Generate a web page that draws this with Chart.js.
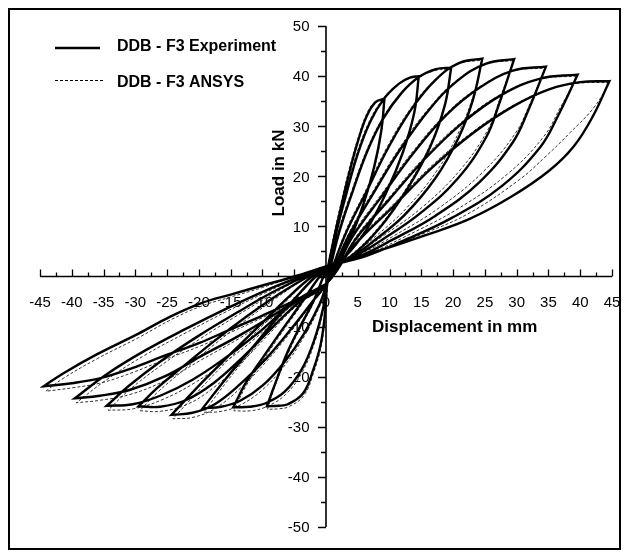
<!DOCTYPE html>
<html>
<head>
<meta charset="utf-8">
<title>DDB - F3 hysteresis</title>
<script src="https://cdn.jsdelivr.net/npm/chart.js@4.4.1/dist/chart.umd.min.js"></script>
<style>
  html, body { margin: 0; padding: 0; background: #fff; }
  #wrap { width: 629px; height: 557px; }
</style>
</head>
<body>
<div id="wrap"><canvas id="loops" width="629" height="557"></canvas></div>
<script>
// [displacement mm, load kN] per load cycle, tip points doubled to keep the loop tips sharp
const exp1 = [[0,0],[1.1,6.7],[2.3,13.5],[3.7,20.9],[5.1,27.3],[6.4,32.0],[7.8,34.8],[9.2,35.5],[9.2,35.5],[8.7,29.1],[7.6,22.0],[6.0,14.9],[4.0,8.2],[1.8,3.2],[0,1.0],
  [-0.4,0],[-2.0,-5.0],[-4.0,-9.8],[-6.1,-15.2],[-8.0,-21.4],[-9.3,-25.9],[-9.3,-25.9],[-7.5,-25.8],[-6.0,-25.5],[-3.6,-23.3],[-2.0,-18.6],[-0.8,-13.3],[-0.1,-6.6],[0.2,-1.2]];
const exp2 = [[1.5,8.0],[3.2,16.5],[5.0,24.5],[7.0,31.0],[9.2,35.6],[11.5,38.5],[13.2,39.7],[14.6,40.0],[14.6,40.0],[13.9,32.8],[12.1,24.8],[9.5,16.8],[6.3,9.2],[2.9,3.8],[0,1.2],
  [-1.0,0],[-4.0,-5.5],[-7.0,-10.8],[-10.0,-16.3],[-12.6,-21.2],[-14.6,-26.1],[-14.6,-26.1],[-12.0,-26.0],[-9.5,-25.3],[-6.5,-23.0],[-3.8,-18.5],[-1.8,-12.5],[-0.4,-6.0],[0.2,-1.2]];
const exp3 = [[2.0,8.5],[4.2,17.0],[6.5,25.0],[9.0,31.5],[11.8,36.5],[14.6,39.8],[17.3,41.4],[19.7,41.7],[19.7,41.7],[18.7,34.2],[16.4,25.9],[12.8,17.5],[8.5,9.8],[3.9,4.0],[0,1.4],
  [-1.6,0],[-5.0,-4.5],[-8.5,-9.5],[-12.0,-14.8],[-15.5,-20.0],[-19.4,-26.3],[-19.4,-26.3],[-16.5,-26.0],[-13.5,-24.8],[-10.0,-21.8],[-6.5,-17.0],[-3.5,-11.5],[-1.0,-5.5],[0.2,-1.2]];
const exp4 = [[3.0,8.3],[6.2,16.5],[9.8,25.7],[13.5,33.5],[17.2,39.2],[20.9,42.6],[24.6,43.5],[24.6,43.5],[23.1,35.2],[20.9,27.8],[17.2,19.6],[12.3,12.2],[7.4,7.0],[3.7,3.6],[0,1.6],
  [-2.2,0],[-6.0,-4.2],[-10.0,-9.2],[-14.5,-14.8],[-19.0,-20.5],[-24.3,-27.6],[-24.3,-27.6],[-21.0,-27.2],[-17.5,-25.5],[-13.5,-21.5],[-9.5,-16.5],[-5.5,-10.5],[-2.0,-4.8],[0.2,-1.2]];
const exp5 = [[3.6,8.2],[7.4,16.5],[11.8,25.6],[16.3,33.4],[20.7,39.1],[25.2,42.5],[29.6,43.4],[29.6,43.4],[27.2,34.3],[25.2,27.8],[20.7,19.5],[14.8,12.6],[8.9,7.4],[4.4,4.0],[0,1.8],
  [-2.8,0],[-7.5,-3.6],[-12.5,-8.0],[-17.5,-12.8],[-23.0,-18.5],[-26.5,-22.2],[-29.5,-25.9],[-29.5,-25.9],[-26.1,-26.0],[-21.9,-24.6],[-17.7,-21.3],[-13.5,-16.6],[-9.3,-11.3],[-4.6,-5.5],[0.2,-1.2]];
const exp6 = [[4.2,8.0],[8.7,15.9],[13.8,24.7],[19.0,32.3],[24.2,37.7],[29.4,41.1],[34.6,41.9],[34.6,41.9],[31.8,33.1],[29.4,26.8],[24.2,18.9],[17.3,12.2],[10.4,7.3],[5.2,4.0],[0,1.9],
  [-3.4,0],[-8.5,-3.2],[-14.0,-7.2],[-20.0,-11.8],[-26.0,-16.9],[-31.0,-21.8],[-34.5,-25.8],[-34.5,-25.8],[-30.4,-25.5],[-25.9,-23.7],[-21.0,-20.6],[-15.9,-16.3],[-11.0,-11.6],[-5.5,-5.7],[0.2,-1.2]];
const exp7 = [[4.8,7.7],[9.9,15.3],[15.8,23.8],[21.8,31.0],[27.7,36.3],[33.7,39.5],[39.6,40.3],[39.6,40.3],[36.4,31.8],[33.7,25.8],[27.7,18.1],[19.8,11.7],[11.9,7.0],[5.9,3.9],[0,2.0],
  [-4.0,0],[-9.5,-2.8],[-15.5,-6.3],[-22.0,-10.4],[-28.5,-14.8],[-34.5,-19.5],[-39.5,-24.3],[-39.5,-24.3],[-35.6,-23.8],[-30.8,-22.6],[-25.3,-19.9],[-19.8,-16.0],[-13.8,-11.9],[-7.1,-6.8],[-3.2,-3.6],[0.2,-1.2]];
const exp8 = [[4.3,6.0],[10.6,14.0],[16.9,22.0],[23.2,28.7],[29.5,34.0],[35.2,37.4],[40.0,38.8],[44.6,39.0],[44.6,39.0],[42.0,32.0],[39.0,26.0],[35.0,21.0],[29.0,15.8],[22.6,11.5],[15.8,8.3],[8.0,5.0],[0,2.0],
  [-5.0,0],[-10.0,-1.8],[-15.0,-3.6],[-19.8,-5.4],[-24.5,-8.0],[-29.5,-11.4],[-36.0,-15.5],[-41.3,-19.3],[-44.4,-21.9],[-44.4,-21.9],[-40.0,-21.3],[-35.5,-20.3],[-30.5,-18.3],[-25.6,-15.9],[-20.0,-13.3],[-15.1,-10.6],[-10.0,-7.8],[-4.6,-4.6],[0,-1.5]];

const fem1 = [[0,0],[1.0,6.9],[2.2,13.8],[3.6,21.2],[5.0,27.5],[6.3,32.2],[7.7,34.9],[9.2,35.3],[9.2,35.3],[8.8,29.6],[7.8,22.6],[6.2,15.4],[4.2,8.6],[1.9,3.4],[0,1.1],
  [-0.4,0],[-2.0,-5.3],[-4.0,-10.2],[-6.1,-15.8],[-8.1,-22.1],[-9.2,-26.5],[-9.2,-26.5],[-7.4,-26.4],[-5.9,-26.0],[-3.5,-23.8],[-1.9,-19.0],[-0.7,-13.5],[0,-6.6],[0.3,-1.3]];
const fem2 = [[1.4,8.2],[3.1,16.8],[4.9,24.8],[6.9,31.2],[9.1,35.7],[11.4,38.5],[13.2,39.6],[14.6,39.8],[14.6,39.8],[14.0,33.5],[12.3,25.6],[9.8,17.6],[6.6,9.9],[3.1,4.2],[0,1.3],
  [-1.0,0],[-4.0,-5.9],[-7.0,-11.3],[-10.0,-16.9],[-12.6,-21.9],[-14.5,-26.8],[-14.5,-26.8],[-11.9,-26.8],[-9.4,-26.0],[-6.4,-23.6],[-3.7,-19.0],[-1.7,-12.8],[-0.3,-6.1],[0.3,-1.3]];
const fem3 = [[1.9,8.7],[4.1,17.3],[6.4,25.2],[8.9,31.6],[11.7,36.5],[14.5,39.6],[17.2,41.1],[19.7,41.4],[19.7,41.4],[18.9,35.2],[16.7,27.2],[13.2,18.8],[8.9,10.8],[4.1,4.5],[0,1.5],
  [-1.6,0],[-5.0,-4.9],[-8.5,-10.0],[-12.0,-15.4],[-15.5,-20.8],[-19.2,-27.1],[-19.2,-27.1],[-16.4,-26.9],[-13.4,-25.6],[-9.9,-22.5],[-6.4,-17.6],[-3.4,-11.9],[-0.9,-5.7],[0.3,-1.3]];
const fem4 = [[2.9,8.5],[6.1,16.8],[9.7,26.0],[13.4,33.7],[17.1,39.2],[20.8,42.4],[24.6,43.2],[24.6,43.2],[23.3,36.6],[21.2,29.6],[17.6,21.4],[12.7,13.7],[7.7,7.9],[3.8,4.0],[0,1.7],
  [-2.2,0],[-6.0,-4.6],[-10.0,-9.8],[-14.5,-15.5],[-19.0,-21.4],[-24.1,-28.4],[-24.1,-28.4],[-20.9,-28.1],[-17.4,-26.3],[-13.4,-22.2],[-9.4,-17.0],[-5.4,-10.8],[-1.9,-4.9],[0.3,-1.3]];
const fem5 = [[3.5,8.4],[7.3,16.8],[11.7,25.9],[16.2,33.6],[20.6,39.2],[25.1,42.4],[29.6,43.1],[29.6,43.1],[27.5,36.0],[25.6,29.6],[21.2,21.4],[15.3,14.0],[9.2,8.3],[4.6,4.5],[0,1.9],
  [-2.8,0],[-7.5,-4.0],[-12.5,-8.6],[-17.5,-13.5],[-23.0,-19.3],[-26.5,-23.1],[-29.3,-26.8],[-29.3,-26.8],[-26.0,-26.9],[-21.8,-25.5],[-17.6,-22.1],[-13.4,-17.3],[-9.2,-11.8],[-4.5,-5.7],[0.3,-1.3]];
const fem6 = [[4.1,8.2],[8.6,16.2],[13.7,25.0],[18.9,32.5],[24.1,37.8],[29.3,41.0],[34.6,41.6],[34.6,41.6],[32.2,34.8],[29.9,28.8],[24.8,21.0],[17.9,13.8],[10.8,8.2],[5.4,4.5],[0,2.0],
  [-3.4,0],[-8.5,-3.6],[-14.0,-7.8],[-20.0,-12.6],[-26.0,-17.8],[-31.0,-22.7],[-34.3,-26.7],[-34.3,-26.7],[-30.3,-26.4],[-25.8,-24.6],[-20.9,-21.4],[-15.8,-17.0],[-10.9,-12.1],[-5.4,-5.9],[0.3,-1.3]];
const fem7 = [[4.7,7.9],[9.8,15.6],[15.7,24.1],[21.7,31.2],[27.6,36.4],[33.6,39.4],[39.6,40.0],[39.6,40.0],[36.9,33.8],[34.3,28.0],[28.5,20.4],[20.6,13.4],[12.5,8.0],[6.2,4.3],[0,2.1],
  [-4.0,0],[-9.5,-3.2],[-15.5,-6.9],[-22.0,-11.2],[-28.5,-15.7],[-34.4,-20.5],[-39.3,-25.2],[-39.3,-25.2],[-35.5,-24.7],[-30.7,-23.5],[-25.2,-20.7],[-19.7,-16.7],[-13.7,-12.4],[-7.0,-7.1],[-3.1,-3.8],[0.3,-1.3]];
const fem8 = [[4.2,6.2],[10.5,14.3],[16.8,22.3],[23.1,28.9],[29.4,34.1],[35.1,37.4],[40.0,38.6],[44.6,38.7],[44.6,38.7],[42.2,33.8],[38.4,28.7],[34.6,24.0],[30.5,19.4],[22.6,12.7],[15.8,8.8],[8.0,5.2],[0,2.1],
  [-5.0,0],[-10.0,-2.2],[-15.0,-4.1],[-19.8,-6.0],[-24.5,-8.7],[-29.5,-12.2],[-36.0,-16.4],[-41.3,-20.3],[-44.1,-22.9],[-44.1,-22.9],[-39.8,-22.2],[-35.3,-21.2],[-30.3,-19.1],[-25.4,-16.6],[-19.8,-13.9],[-14.9,-11.1],[-9.8,-8.1],[-4.5,-4.8],[0,-1.6]];

const xTickValues = [-45, -40, -35, -30, -25, -20, -15, -10, -5, 0, 5, 10, 15, 20, 25, 30, 35, 40, 45];
const yTickValues = [-50, -40, -30, -20, -10, 10, 20, 30, 40, 50];
const seriesNames = ['DDB - F3 Experiment', 'DDB - F3 ANSYS'];

const toPoints = cycles => cycles.flat().map(([x, y]) => ({ x, y }));

const FONT = '"Liberation Sans", Arial, sans-serif';

// axes through the origin, tick marks, labels, legend and frame
const decor = {
    id: 'decor',
    beforeDraw(chart) {
        const { ctx, width, height } = chart;
        ctx.save();
        ctx.fillStyle = '#fff';
        ctx.fillRect(0, 0, width, height);
        ctx.restore();
    },
    beforeDatasetsDraw(chart) {
        const { ctx, scales: { x, y } } = chart;
        const ox = x.getPixelForValue(0);
        const oy = y.getPixelForValue(0);
        ctx.save();
        ctx.strokeStyle = '#000';
        ctx.fillStyle = '#000';

        ctx.lineWidth = 2;
        ctx.strokeRect(9, 9, 611, 540);

        ctx.lineWidth = 1.6;
        ctx.beginPath();
        ctx.moveTo(x.left, oy);
        ctx.lineTo(x.right, oy);
        ctx.moveTo(ox, y.top);
        ctx.lineTo(ox, y.bottom);
        ctx.stroke();

        ctx.lineWidth = 1.3;
        ctx.beginPath();
        for (let v = -45; v <= 45; v += 2.5) {
            const px = Math.round(x.getPixelForValue(v)) + 0.5;
            const len = v % 5 === 0 ? 7 : 4;
            ctx.moveTo(px, oy);
            ctx.lineTo(px, oy - len);
        }
        for (let v = -50; v <= 50; v += 5) {
            const py = Math.round(y.getPixelForValue(v)) + 0.5;
            const len = v % 10 === 0 ? 8 : 5;
            ctx.moveTo(ox, py);
            ctx.lineTo(ox - len, py);
        }
        ctx.stroke();

        ctx.font = '15px ' + FONT;
        ctx.textBaseline = 'alphabetic';
        ctx.textAlign = 'center';
        xTickValues.forEach(v => ctx.fillText(String(v), x.getPixelForValue(v), oy + 30));
        ctx.textAlign = 'right';
        yTickValues.forEach(v => ctx.fillText(String(v), ox - 16.5, y.getPixelForValue(v) + 5.3));

        // axis titles
        ctx.font = 'bold 17px ' + FONT;
        ctx.textAlign = 'left';
        ctx.fillText('Displacement in mm', 372, 332);
        ctx.save();
        ctx.translate(278, 173);
        ctx.rotate(-Math.PI / 2);
        ctx.textAlign = 'center';
        ctx.fillText('Load in kN', 0, 6);
        ctx.restore();

        // legend
        ctx.lineWidth = 2.5;
        ctx.beginPath();
        ctx.moveTo(55, 48);
        ctx.lineTo(100, 48);
        ctx.stroke();
        ctx.lineWidth = 1;
        ctx.setLineDash([3, 2]);
        ctx.beginPath();
        ctx.moveTo(55, 80.5);
        ctx.lineTo(105, 80.5);
        ctx.stroke();
        ctx.setLineDash([]);
        ctx.font = 'bold 16px ' + FONT;
        ctx.textAlign = 'left';
        ctx.fillText(seriesNames[0], 117, 51);
        ctx.fillText(seriesNames[1], 117, 87);
        ctx.restore();
    }
};

new Chart(document.getElementById('loops'), {
    type: 'scatter',
    data: {
        datasets: [
            {
                label: seriesNames[0],
                data: toPoints([exp1, exp2, exp3, exp4, exp5, exp6, exp7, exp8]),
                showLine: true,
                borderColor: '#000',
                borderWidth: 2.4,
                pointRadius: 0,
                tension: 0.4,
                fill: false
            },
            {
                label: seriesNames[1],
                data: toPoints([fem1, fem2, fem3, fem4, fem5, fem6, fem7, fem8]),
                showLine: true,
                borderColor: '#333',
                borderWidth: 1,
                borderDash: [3, 2],
                pointRadius: 0,
                tension: 0.4,
                fill: false
            }
        ]
    },
    options: {
        responsive: false,
        animation: false,
        devicePixelRatio: 1,
        layout: { padding: { left: 40, right: 17, top: 26, bottom: 30 } },
        plugins: {
            legend: { display: false },
            tooltip: { enabled: false }
        },
        scales: {
            x: {
                type: 'linear',
                min: -45,
                max: 45,
                position: { y: 0 },
                grid: { display: false, drawTicks: false },
                border: { display: false },
                ticks: { display: false }
            },
            y: {
                type: 'linear',
                min: -50,
                max: 50,
                position: { x: 0 },
                grid: { display: false, drawTicks: false },
                border: { display: false },
                ticks: { display: false }
            }
        }
    },
    plugins: [decor]
});
</script>
</body>
</html>
